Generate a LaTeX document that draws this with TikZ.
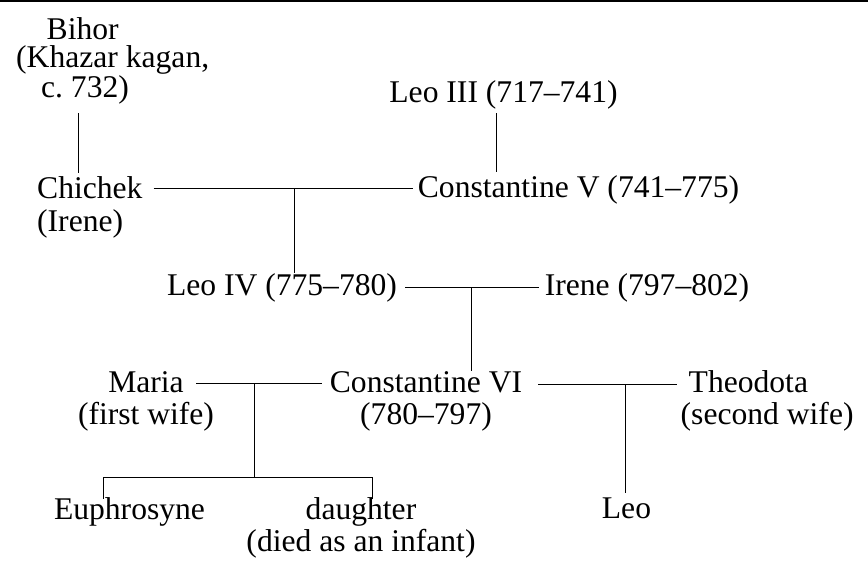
\documentclass[tikz,border=0pt]{standalone}
\usepackage{fontspec}
\setmainfont{Liberation Serif}
\begin{document}
\begin{tikzpicture}[x=1pt,y=-1pt,
  person/.style={inner xsep=8pt,inner ysep=4pt,anchor=base,
    font=\fontsize{31.6pt}{32.5pt}\selectfont},
  line/.style={line width=1pt}]
  \useasboundingbox (0,0) rectangle (868,572);
  \draw[line width=2.4pt] (0,1.2) -- (868,1.2);

  % base of a two-line node is its last line
  \node[person,anchor=base west,align=left,font=\fontsize{31.6pt}{28.5pt}\selectfont] (bihor) at (8,97.5)
    {\hspace*{30.5pt}Bihor\\(Khazar kagan,\\\hspace*{25pt}c.~732)};
  \node[person,anchor=base west,align=left] (chichek) at (29,231.5) {Chichek\\(Irene)};
  \node[person] (leo3) at (503.5,102.5) {Leo III (717--741)};
  \node[person] (const5) at (578.5,198) {Constantine V (741--775)};
  \node[person] (leo4) at (282,295) {Leo IV (775--780)};
  \node[person] (irene) at (647,295) {Irene (797--802)};
  \node[person,align=center] (maria) at (146,424.5) {Maria\\(first wife)};
  \node[person,align=center] (const6) at (426,424.5) {Constantine VI\\(780--797)};
  \node[person,anchor=base west,align=left] (theodota) at (672.5,424.5) {\hspace*{8pt}Theodota\\(second wife)};
  \node[person] (euphr) at (129.5,519) {Euphrosyne};
  \node[person,align=center] (daughter) at (361,551.5) {daughter\\(died as an infant)};
  \node[person] (leo) at (626.5,518) {Leo};

  % junctions
  \coordinate (x1) at (78,0);
  \coordinate (x2) at (496,0);
  \coordinate (m1) at (294,188.5);
  \coordinate (m2) at (471,288);
  \coordinate (m3) at (254,383);
  \coordinate (m4) at (625,384);
  \coordinate (k1) at (254,477);
  \coordinate (t1) at (103,477);
  \coordinate (t2) at (372,477);

  \draw[line,shorten <=5pt] (bihor.south -| x1) -- (chichek.north -| x1);
  \draw[line] (leo3.south -| x2) -- (const5.north -| x2);
  \draw[line,shorten <=3pt,shorten >=-3pt] (chichek.east |- m1) -- (const5.west |- m1);
  \draw[line,shorten >=-4pt] (m1) -- (leo4.north -| m1);
  \draw[line,shorten >=-2.5pt] (leo4.east |- m2) -- (irene.west |- m2);
  \draw[line,shorten >=-4pt] (m2) -- (const6.north -| m2);
  \draw[line,shorten <=-26pt] (maria.east |- m3) -- (const6.west |- m3);
  \draw[line] (m3) -- (k1);
  \draw[line,shorten <=-6pt,shorten >=-6pt] (t1 |- euphr.north) -- (t1) -- (t2) -- (t2 |- daughter.north);
  \draw[line,shorten <=8pt,shorten >=-4.5pt] (const6.east |- m4) -- (theodota.west |- m4);
  \draw[line] (m4) -- (leo.north -| m4);
\end{tikzpicture}
\end{document}
